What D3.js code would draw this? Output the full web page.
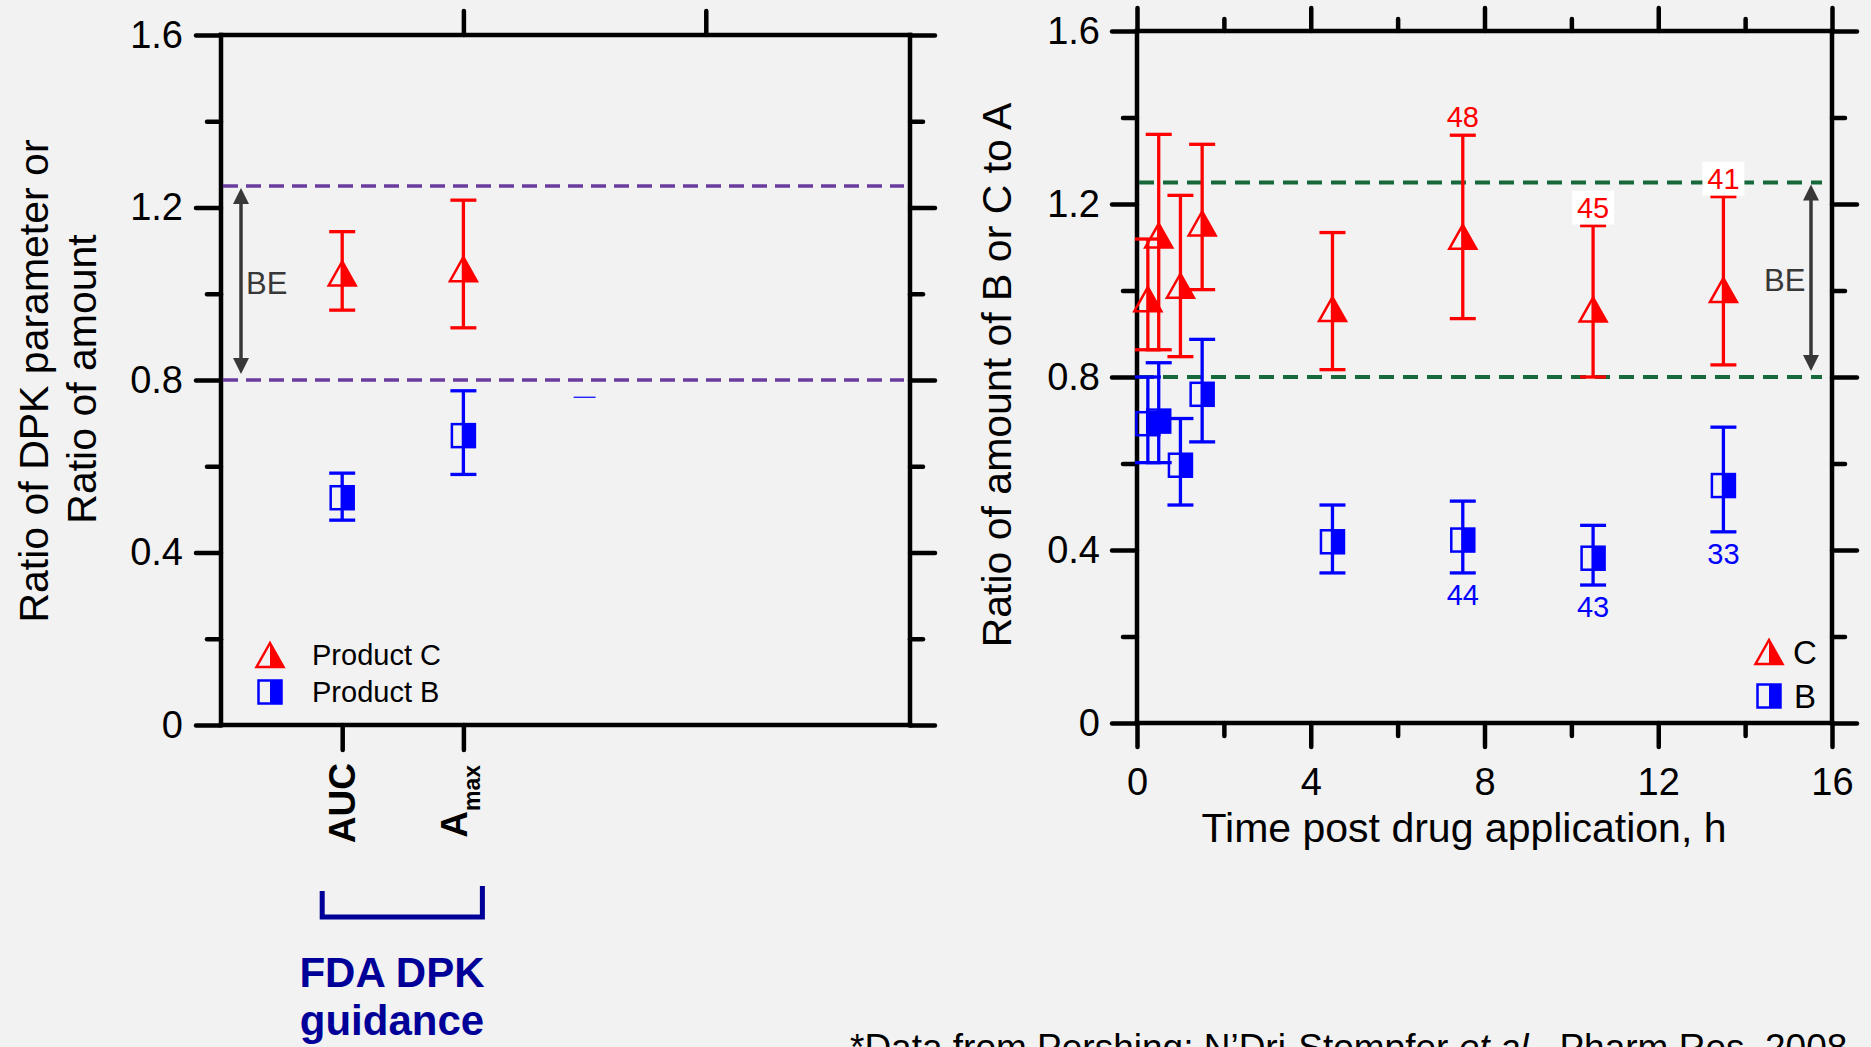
<!DOCTYPE html>
<html>
<head>
<meta charset="utf-8">
<script src="https://cdn.jsdelivr.net/npm/d3@7"></script>
<style>
  body { margin: 0; background: #f2f2f2; }
  svg { display: block; font-family: "Liberation Sans", Arial, sans-serif; }
</style>
</head>
<body>
<script>
// ---- left panel: DPK parameters (ratio of product to reference)
var dpkCategories = ["AUC", "A"];
var dpkPos = [1, 2];
var dpkC = [1.047, 1.057];
var dpkCLo = [0.962, 0.921];
var dpkCHi = [1.144, 1.217];
var dpkB = [0.527, 0.671];
var dpkBLo = [0.475, 0.581];
var dpkBHi = [0.584, 0.775];
var dpkTopTicks = [2, 4];
var strayCap = [{ pos: 3, v: 0.76 }];

// ---- right panel: ratio of amount vs time
var hours = [0.25, 0.5, 1, 1.5, 4.5, 7.5, 10.5, 13.5];
var ratioC = [0.980, 1.127, 1.011, 1.155, 0.957, 1.124, 0.956, 1.001];
var ratioCLo = [0.863, 0.863, 0.847, 1.002, 0.817, 0.935, 0.800, 0.828];
var ratioCHi = [1.119, 1.361, 1.220, 1.338, 1.134, 1.359, 1.150, 1.217];
var ratioB = [0.692, 0.698, 0.596, 0.760, 0.419, 0.423, 0.381, 0.549];
var ratioBLo = [0.602, 0.602, 0.504, 0.650, 0.347, 0.347, 0.319, 0.442];
var ratioBHi = [0.800, 0.833, 0.704, 0.887, 0.504, 0.513, 0.457, 0.684];
var nC = [null, null, null, null, null, "48", "45", "41"];
var nB = [null, null, null, null, null, "44", "43", "33"];
var boxedC = [false, false, false, false, false, false, true, true];

var beLimits = [0.8, 1.25];
var yMajor = [0, 0.4, 0.8, 1.2, 1.6];
var yMinor = [0.2, 0.6, 1.0, 1.4];
var xMajor = [0, 4, 8, 12, 16];
var xMinor = [2, 6, 10, 14];

var RED = "#ff0000", BLUE = "#0000ff", INK = "#000";

var svg = d3.select("body").append("svg")
    .attr("width", 1871)
    .attr("height", 1047);

svg.append("rect").attr("width", 1871).attr("height", 1047).attr("fill", "#f2f2f2");

var xL = d3.scaleLinear().domain([0, 5.685]).range([221, 910]);
var yL = d3.scaleLinear().domain([0, 1.6]).range([725, 35]);
var xR = d3.scaleLinear().domain([0, 16]).range([1137, 1832]);
var yR = d3.scaleLinear().domain([0, 1.6]).range([723, 31]);

function styleAxis(g, fontSize) {
    g.select(".domain").remove();
    g.selectAll(".tick line")
        .attr("stroke", INK)
        .attr("stroke-width", 4.5)
        .attr("stroke-linecap", "round");
    g.selectAll(".tick text")
        .attr("fill", INK)
        .style("font-size", fontSize + "px");
}

function frame(x, y) {
    var f = svg.append("g");
    var x0 = x.range()[0], x1 = x.range()[1], y0 = y.range()[0], y1 = y.range()[1];
    [[x0, y0, x1, y0], [x0, y1, x1, y1], [x0, y0, x0, y1], [x1, y0, x1, y1]].forEach(function (s) {
        f.append("line")
            .attr("x1", s[0]).attr("y1", s[1]).attr("x2", s[2]).attr("y2", s[3])
            .attr("stroke", INK).attr("stroke-width", 4.5).attr("stroke-linecap", "square");
    });
}

function yAxes(x, y, pad) {
    var left = x.range()[0], right = x.range()[1];
    svg.append("g").attr("transform", "translate(" + left + ",0)")
        .call(d3.axisLeft(y).tickValues(yMinor).tickSize(14).tickFormat(""))
        .call(styleAxis, 38);
    svg.append("g").attr("transform", "translate(" + left + ",0)")
        .call(d3.axisLeft(y).tickValues(yMajor).tickSize(25).tickPadding(pad).tickFormat(d3.format("")))
        .call(styleAxis, 38);
    svg.append("g").attr("transform", "translate(" + right + ",0)")
        .call(d3.axisRight(y).tickValues(yMinor).tickSize(13).tickFormat(""))
        .call(styleAxis, 38);
    svg.append("g").attr("transform", "translate(" + right + ",0)")
        .call(d3.axisRight(y).tickValues(yMajor).tickSize(25).tickFormat(""))
        .call(styleAxis, 38);
}

function errorBars(g, x, y, pos, lo, hi, color) {
    var cap = 13;
    pos.forEach(function (p, i) {
        var cx = x(p);
        g.append("line")
            .attr("x1", cx).attr("x2", cx).attr("y1", y(lo[i])).attr("y2", y(hi[i]))
            .attr("stroke", color).attr("stroke-width", 3.3);
        [lo[i], hi[i]].forEach(function (v) {
            g.append("line")
                .attr("x1", cx - cap).attr("x2", cx + cap).attr("y1", y(v)).attr("y2", y(v))
                .attr("stroke", color).attr("stroke-width", 3.3);
        });
    });
}

function halfTriangle(g, cx, cy, color) {
    var w = 27, h = 24;
    g.append("path")
        .attr("d", "M" + cx + "," + (cy - h / 2) + "L" + (cx + w / 2) + "," + (cy + h / 2) + "L" + cx + "," + (cy + h / 2) + "Z")
        .attr("fill", color);
    g.append("path")
        .attr("d", "M" + cx + "," + (cy - h / 2) + "L" + (cx + w / 2) + "," + (cy + h / 2) + "L" + (cx - w / 2) + "," + (cy + h / 2) + "Z")
        .attr("fill", "none").attr("stroke", color).attr("stroke-width", 2.5);
}

function halfSquare(g, cx, cy, color) {
    var s = 23;
    g.append("rect")
        .attr("x", cx).attr("y", cy - s / 2).attr("width", s / 2).attr("height", s)
        .attr("fill", color);
    g.append("rect")
        .attr("x", cx - s / 2).attr("y", cy - s / 2).attr("width", s).attr("height", s)
        .attr("fill", "none").attr("stroke", color).attr("stroke-width", 2.5);
}

function arrowBE(x, y, ax, textX) {
    var g = svg.append("g").attr("fill", "#383838").attr("stroke", "#383838");
    var top = y(beLimits[1]) + 2, bot = y(beLimits[0]) - 6, hl = 16, hw = 8;
    g.append("line").attr("x1", ax).attr("x2", ax).attr("y1", top + hl - 2).attr("y2", bot - hl + 2)
        .attr("stroke-width", 3.5);
    g.append("path").attr("stroke", "none")
        .attr("d", "M" + ax + "," + top + "L" + (ax + hw) + "," + (top + hl) + "L" + (ax - hw) + "," + (top + hl) + "Z");
    g.append("path").attr("stroke", "none")
        .attr("d", "M" + ax + "," + bot + "L" + (ax + hw) + "," + (bot - hl) + "L" + (ax - hw) + "," + (bot - hl) + "Z");
    svg.append("text")
        .attr("x", textX).attr("y", (y(beLimits[0]) + y(beLimits[1])) / 2 + 11)
        .attr("fill", "#383838").style("font-size", "31px")
        .text("BE");
}

// ================= LEFT PANEL =================
svg.append("g").attr("transform", "translate(0," + yL.range()[1] + ")")
    .call(d3.axisTop(xL).tickValues(dpkTopTicks).tickSize(24).tickFormat(""))
    .call(styleAxis, 38);
svg.append("g").attr("transform", "translate(0," + yL.range()[0] + ")")
    .call(d3.axisBottom(xL).tickValues(dpkPos).tickSize(25).tickFormat(""))
    .call(styleAxis, 38);
yAxes(xL, yL, 13);
frame(xL, yL);

// BE limits
svg.append("g").selectAll("line").data(beLimits).enter().append("line")
    .attr("x1", xL.range()[0] + 2).attr("x2", xL.range()[1] - 6)
    .attr("y1", function (d) { return yL(d); }).attr("y2", function (d) { return yL(d); })
    .attr("stroke", "#6a3c9e").attr("stroke-width", 3.6).attr("stroke-dasharray", "15 8");
arrowBE(xL, yL, 241, 246);

var stray = svg.append("g");
strayCap.forEach(function (d) {
    stray.append("line")
        .attr("x1", xL(d.pos) - 11).attr("x2", xL(d.pos) + 11)
        .attr("y1", yL(d.v)).attr("y2", yL(d.v))
        .attr("stroke", BLUE).attr("stroke-width", 1.2);
});

var gl = svg.append("g");
errorBars(gl, xL, yL, dpkPos, dpkCLo, dpkCHi, RED);
errorBars(gl, xL, yL, dpkPos, dpkBLo, dpkBHi, BLUE);
dpkPos.forEach(function (p, i) {
    halfTriangle(gl, xL(p), yL(dpkC[i]), RED);
    halfSquare(gl, xL(p), yL(dpkB[i]), BLUE);
});

// legend
halfTriangle(svg, 270, 655, RED);
halfSquare(svg, 270, 692, BLUE);
svg.append("text").attr("x", 312).attr("y", 665).style("font-size", "29px").text("Product C");
svg.append("text").attr("x", 312).attr("y", 702).style("font-size", "29px").text("Product B");

// y title
svg.append("text")
    .attr("transform", "translate(48,381) rotate(-90)")
    .attr("text-anchor", "middle").style("font-size", "41px")
    .text("Ratio of DPK parameter or");
svg.append("text")
    .attr("transform", "translate(96,379) rotate(-90)")
    .attr("text-anchor", "middle").style("font-size", "41px")
    .text("Ratio of amount");

// rotated category labels
svg.append("text")
    .attr("transform", "translate(" + (xL(dpkPos[0]) + 13) + ",763) rotate(-90)")
    .attr("text-anchor", "end").attr("font-weight", "bold").style("font-size", "37px")
    .text(dpkCategories[0]);
var amax = svg.append("text")
    .attr("transform", "translate(" + (xL(dpkPos[1]) + 4) + ",765) rotate(-90)")
    .attr("text-anchor", "end").attr("font-weight", "bold").style("font-size", "37px");
amax.append("tspan").text(dpkCategories[1]);
amax.append("tspan").attr("dy", 13).style("font-size", "23px").text("max");

// FDA guidance bracket
svg.append("path")
    .attr("d", "M" + (xL(dpkPos[0]) - 20) + ",891V917H" + (xL(dpkPos[1]) + 19) + "V886")
    .attr("fill", "none").attr("stroke", "#000099").attr("stroke-width", 5);
svg.append("text").attr("x", 392).attr("y", 987).attr("text-anchor", "middle")
    .attr("font-weight", "bold").attr("fill", "#000099").style("font-size", "42px").text("FDA DPK");
svg.append("text").attr("x", 392).attr("y", 1035).attr("text-anchor", "middle")
    .attr("font-weight", "bold").attr("fill", "#000099").style("font-size", "42px").text("guidance");

// ================= RIGHT PANEL =================
svg.append("g").attr("transform", "translate(0," + yR.range()[1] + ")")
    .call(d3.axisTop(xR).tickValues(xMinor).tickSize(12).tickFormat(""))
    .call(styleAxis, 38);
svg.append("g").attr("transform", "translate(0," + yR.range()[1] + ")")
    .call(d3.axisTop(xR).tickValues(xMajor).tickSize(23).tickFormat(""))
    .call(styleAxis, 38);
svg.append("g").attr("transform", "translate(0," + yR.range()[0] + ")")
    .call(d3.axisBottom(xR).tickValues(xMinor).tickSize(13).tickFormat(""))
    .call(styleAxis, 38);
svg.append("g").attr("transform", "translate(0," + yR.range()[0] + ")")
    .call(d3.axisBottom(xR).tickValues(xMajor).tickSize(24).tickPadding(21))
    .call(styleAxis, 38);
yAxes(xR, yR, 12);
frame(xR, yR);

svg.append("g").selectAll("line").data(beLimits).enter().append("line")
    .attr("x1", xR.range()[0] + 2).attr("x2", xR.range()[1] - 10)
    .attr("y1", function (d) { return yR(d); }).attr("y2", function (d) { return yR(d); })
    .attr("stroke", "#17683a").attr("stroke-width", 4).attr("stroke-dasharray", "15 9");
arrowBE(xR, yR, 1811, 1764);

var gr = svg.append("g");
errorBars(gr, xR, yR, hours, ratioCLo, ratioCHi, RED);
errorBars(gr, xR, yR, hours, ratioBLo, ratioBHi, BLUE);
hours.forEach(function (h, i) {
    halfTriangle(gr, xR(h), yR(ratioC[i]), RED);
    halfSquare(gr, xR(h), yR(ratioB[i]), BLUE);
});

// sample counts
hours.forEach(function (h, i) {
    if (nC[i]) {
        var by = yR(ratioCHi[i]) - 8;
        if (boxedC[i]) {
            gr.append("rect").attr("x", xR(h) - 21).attr("y", by - 27)
                .attr("width", 42).attr("height", 34).attr("fill", "#fff");
        }
        gr.append("text").attr("x", xR(h)).attr("y", by).attr("text-anchor", "middle")
            .attr("fill", RED).style("font-size", "29px").text(nC[i]);
    }
    if (nB[i]) {
        gr.append("text").attr("x", xR(h)).attr("y", yR(ratioBLo[i]) + 32).attr("text-anchor", "middle")
            .attr("fill", BLUE).style("font-size", "29px").text(nB[i]);
    }
});

// legend
halfTriangle(svg, 1769, 652, RED);
halfSquare(svg, 1769, 696, BLUE);
svg.append("text").attr("x", 1793).attr("y", 664).style("font-size", "33px").text("C");
svg.append("text").attr("x", 1794).attr("y", 708).style("font-size", "33px").text("B");

svg.append("text")
    .attr("transform", "translate(1011,375) rotate(-90)")
    .attr("text-anchor", "middle").style("font-size", "41px")
    .text("Ratio of amount of B or C to A");
svg.append("text")
    .attr("x", 1464).attr("y", 842).attr("text-anchor", "middle").style("font-size", "41px")
    .text("Time post drug application, h");

// footnote (cut by the page edge)
var foot = svg.append("text").attr("x", 850).attr("y", 1060).style("font-size", "37px");
foot.append("tspan").text("*Data from Pershing; N\u2019Dri-Stompfer ");
foot.append("tspan").attr("font-style", "italic").text("et al.");
foot.append("tspan").text(", Pharm Res, 2008");
</script>
</body>
</html>
